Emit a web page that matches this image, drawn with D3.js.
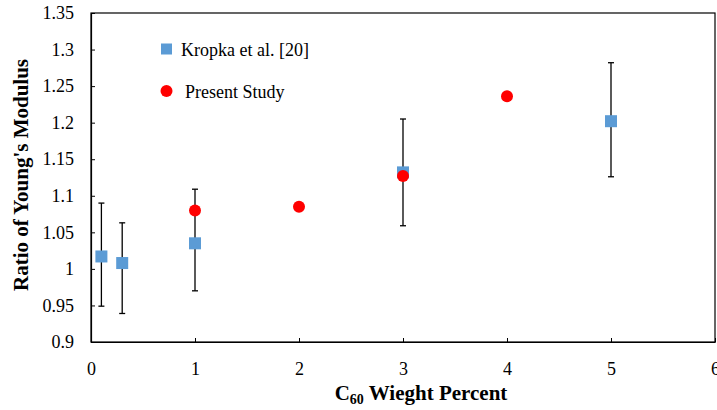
<!DOCTYPE html>
<html>
<head>
<meta charset="utf-8">
<script src="https://cdn.jsdelivr.net/npm/d3@7"></script>
<style>
body { margin: 0; background: #fff; }
text { font-family: "Liberation Serif", "Times New Roman", serif; fill: #000; }
</style>
</head>
<body>
<script>
var width = 717,
    height = 410;

// Kropka et al. [20]
var kropkaX = [0.1, 0.3, 1, 3, 5];
var kropkaY = [1.017, 1.008, 1.035, 1.132, 1.202];
var kropkaHi = [1.090, 1.063, 1.109, 1.205, 1.282];
var kropkaLo = [0.949, 0.939, 0.970, 1.059, 1.126];

// Present Study
var presentX = [1, 2, 3, 4];
var presentY = [1.080, 1.085, 1.127, 1.236];

var xTicks = [0, 1, 2, 3, 4, 5, 6];
var yTicks = [0.9, 0.95, 1, 1.05, 1.1, 1.15, 1.2, 1.25, 1.3, 1.35];

var blue = "#5b9bd5",
    red = "#ff0000";

var svg = d3.select("body").append("svg")
    .attr("width", width)
    .attr("height", height);

var x = d3.scaleLinear().domain([0, 6]).range([91, 715]);
var y = d3.scaleLinear().domain([0.9, 1.35]).range([342, 13]);

// frame
svg.append("rect")
    .attr("x", x(0))
    .attr("y", y(1.35))
    .attr("width", x(6) - x(0))
    .attr("height", y(0.9) - y(1.35))
    .attr("fill", "none")
    .attr("stroke", "#000")
    .attr("stroke-width", 1.2);

// axes, ticks pointing inward
var xAxis = svg.append("g")
    .attr("transform", "translate(0," + y(0.9) + ")")
    .call(d3.axisBottom(x).tickValues(xTicks).tickFormat(d3.format("d"))
      .tickSizeInner(-4).tickSizeOuter(0).tickPadding(20));
xAxis.select(".domain").attr("stroke-width", 1.2);
xAxis.selectAll("text").attr("font-size", 18).attr("font-family", "Liberation Serif");

var yAxis = svg.append("g")
    .attr("transform", "translate(" + x(0) + ",0)")
    .call(d3.axisLeft(y).tickValues(yTicks).tickFormat(d3.format(""))
      .tickSizeInner(-4).tickSizeOuter(0).tickPadding(17));
yAxis.select(".domain").attr("stroke-width", 1.2);
yAxis.selectAll("text").attr("font-size", 18).attr("font-family", "Liberation Serif");

// error bars
var kropka = kropkaX.map(function(d, i) {
  return { x: d, y: kropkaY[i], hi: kropkaHi[i], lo: kropkaLo[i] };
});

var err = svg.append("g").attr("stroke", "#000").attr("stroke-width", 1.3);
kropka.forEach(function(d) {
  err.append("line")
      .attr("x1", x(d.x)).attr("x2", x(d.x))
      .attr("y1", y(d.hi)).attr("y2", y(d.lo));
  err.append("line")
      .attr("x1", x(d.x) - 3).attr("x2", x(d.x) + 3)
      .attr("y1", y(d.hi)).attr("y2", y(d.hi));
  err.append("line")
      .attr("x1", x(d.x) - 3).attr("x2", x(d.x) + 3)
      .attr("y1", y(d.lo)).attr("y2", y(d.lo));
});

// squares
svg.append("g").selectAll("rect")
    .data(kropka)
    .enter().append("rect")
    .attr("x", function(d) { return x(d.x) - 6; })
    .attr("y", function(d) { return y(d.y) - 6; })
    .attr("width", 12)
    .attr("height", 12)
    .attr("fill", blue);

// circles
svg.append("g").selectAll("circle")
    .data(presentX)
    .enter().append("circle")
    .attr("cx", function(d) { return x(d); })
    .attr("cy", function(d, i) { return y(presentY[i]); })
    .attr("r", 6)
    .attr("fill", red);

// legend
svg.append("rect")
    .attr("x", 161).attr("y", 43.5)
    .attr("width", 11).attr("height", 11)
    .attr("fill", blue);
svg.append("text")
    .attr("x", 181).attr("y", 56)
    .attr("font-size", 18)
    .text("Kropka et al. [20]");

svg.append("circle")
    .attr("cx", 166.5).attr("cy", 91)
    .attr("r", 6)
    .attr("fill", red);
svg.append("text")
    .attr("x", 185).attr("y", 98)
    .attr("font-size", 18)
    .text("Present Study");

// axis titles
var xt = svg.append("text")
    .attr("x", 421).attr("y", 400)
    .attr("text-anchor", "middle")
    .attr("font-size", 21)
    .attr("font-weight", "bold");
xt.append("tspan").text("C");
xt.append("tspan").attr("font-size", 14).attr("dy", 4).text("60");
xt.append("tspan").attr("dy", -4).text(" Wieght Percent");

svg.append("text")
    .attr("transform", "translate(28,175) rotate(-90)")
    .attr("text-anchor", "middle")
    .attr("font-size", 21)
    .attr("font-weight", "bold")
    .text("Ratio of Young's Modulus");
</script>
</body>
</html>
